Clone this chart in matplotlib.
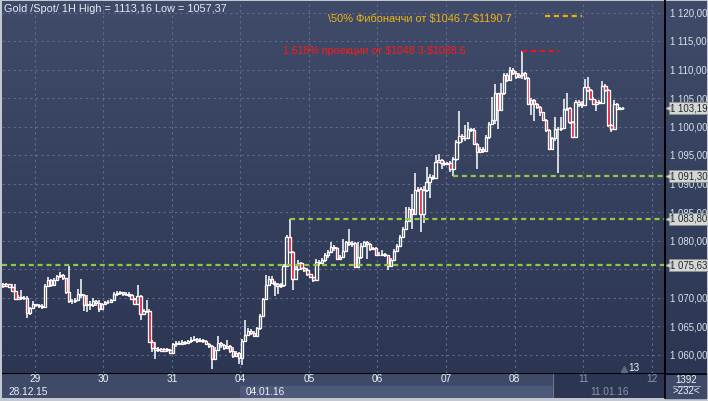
import matplotlib
matplotlib.use("Agg")
import matplotlib.pyplot as plt
import numpy as np
from matplotlib.colors import LinearSegmentedColormap
from matplotlib.patches import Rectangle

plt.rcParams['font.family'] = ['Liberation Sans', 'DejaVu Sans']

# hourly candles, Gold spot, 28.12.15 - 11.01.16
first_open = 1072.3
closes = [
    1072.1, 1072.3, 1071.9, 1071.2, 1069.8, 1070.1, 1069.9, 1070.0, 1067.3, 1068.2, 1068.8,
    1068.6, 1068.5, 1068.4, 1072.1, 1073.0, 1072.2, 1073.1, 1073.8, 1074.0, 1073.4, 1070.9,
    1069.3, 1069.3, 1069.5, 1070.6, 1070.4, 1068.6, 1068.9, 1068.7, 1069.3, 1069.0, 1068.0, 1068.8,
    1069.2, 1069.2, 1069.6, 1070.6, 1070.8, 1070.9, 1070.6, 1070.7, 1070.5, 1069.8, 1068.9,
    1070.3, 1067.1, 1067.6, 1067.7, 1062.2, 1061.2, 1060.8, 1061.0, 1060.7, 1060.9, 1060.8,
    1060.3, 1061.8, 1062.1, 1061.9, 1062.2, 1062.0, 1062.3, 1062.5, 1062.7, 1062.4, 1062.6,
    1062.3, 1061.9, 1061.5, 1059.2, 1060.8, 1062.0, 1061.6, 1061.1, 1061.5, 1060.7, 1059.8,
    1060.3, 1059.3, 1062.4, 1063.4, 1064.2, 1063.8, 1063.3, 1064.6, 1066.8, 1069.7, 1072.2,
    1073.3, 1072.6, 1072.3, 1072.0, 1072.2, 1075.5, 1080.6, 1078.0, 1073.3, 1075.0, 1076.1,
    1075.2, 1074.8, 1074.1, 1073.6, 1073.1, 1076.3, 1076.0, 1076.5, 1077.4, 1078.0, 1078.9,
    1078.6, 1076.8, 1077.1, 1078.2, 1079.7, 1079.4, 1079.5, 1075.3, 1077.1, 1079.0, 1079.7,
    1079.4, 1078.5, 1078.6, 1077.4, 1077.5, 1077.6, 1077.4, 1075.6, 1076.6, 1078.2, 1079.0,
    1080.6, 1082.1, 1083.5, 1085.6, 1084.6, 1088.8, 1089.1, 1084.7, 1088.9, 1090.3, 1091.2,
    1091.0, 1093.8, 1094.1, 1093.6, 1093.5, 1093.6, 1092.6, 1094.3, 1097.3, 1098.4, 1098.0,
    1097.9, 1099.5, 1099.3, 1097.0, 1095.5, 1096.0, 1095.7, 1098.2, 1100.5, 1101.2, 1105.8,
    1102.9, 1105.8, 1109.0, 1108.1, 1110.0, 1109.3, 1108.7, 1109.0, 1109.3, 1108.5, 1104.0,
    1104.6, 1104.0, 1103.4, 1102.6, 1101.1, 1099.3, 1096.1, 1097.9, 1099.6, 1099.5, 1099.8,
    1103.1, 1103.3, 1100.8, 1098.2, 1104.3, 1103.9, 1103.8, 1107.0, 1106.4, 1104.9, 1104.0,
    1104.3, 1104.2, 1107.1, 1106.4, 1100.2, 1099.6, 1104.0, 1103.1, 1103.3, 1103.19,
]
highs = [
    1072.5, 1072.6, 1072.4, 1072.3, 1072.4, 1070.5, 1071.3, 1070.3, 1070.2, 1068.4, 1069.3,
    1068.8, 1068.9, 1068.8, 1072.4, 1073.6, 1073.2, 1073.4, 1074.0, 1074.4, 1074.2, 1073.5,
    1075.5, 1069.8, 1069.9, 1071.5, 1073.3, 1070.6, 1070.4, 1069.3, 1069.9, 1069.6, 1069.6, 1069.1,
    1069.4, 1069.6, 1069.8, 1070.9, 1071.1, 1071.2, 1071.0, 1071.0, 1070.9, 1070.7, 1070.0,
    1072.2, 1070.5, 1067.9, 1069.6, 1067.9, 1062.5, 1062.2, 1061.3, 1061.1, 1061.2, 1061.1,
    1061.0, 1062.1, 1062.4, 1062.3, 1062.5, 1062.3, 1062.6, 1063.0, 1063.2, 1062.9, 1062.9,
    1062.7, 1062.5, 1062.0, 1061.6, 1061.3, 1063.3, 1062.2, 1061.8, 1062.5, 1061.6, 1061.3,
    1060.7, 1060.4, 1062.7, 1066.0, 1064.6, 1064.4, 1064.2, 1064.9, 1067.1, 1070.0, 1073.9,
    1073.8, 1073.7, 1072.9, 1072.6, 1072.5, 1075.8, 1080.9, 1083.8, 1078.2, 1075.6, 1076.5,
    1076.3, 1075.3, 1075.1, 1073.9, 1073.6, 1076.7, 1076.6, 1076.9, 1077.8, 1078.3, 1079.7,
    1079.2, 1078.8, 1077.4, 1080.3, 1080.0, 1082.1, 1079.9, 1079.8, 1079.7, 1079.5, 1080.0,
    1079.9, 1079.6, 1078.9, 1078.8, 1077.9, 1078.4, 1077.8, 1077.5, 1077.0, 1078.5, 1079.3,
    1080.9, 1082.4, 1085.9, 1085.9, 1088.2, 1091.8, 1089.4, 1089.3, 1089.5, 1092.9, 1091.6,
    1091.5, 1095.0, 1095.2, 1094.3, 1094.0, 1093.8, 1093.9, 1094.6, 1097.6, 1102.8, 1098.6,
    1100.2, 1100.8, 1099.8, 1099.7, 1097.1, 1096.4, 1096.4, 1098.5, 1100.8, 1105.2, 1107.5,
    1105.9, 1107.6, 1109.3, 1109.3, 1110.5, 1110.2, 1109.7, 1109.3, 1113.16, 1109.6, 1108.6,
    1105.0, 1104.8, 1104.2, 1103.6, 1102.5, 1101.3, 1099.5, 1098.2, 1101.7, 1100.0, 1101.7,
    1104.9, 1105.8, 1103.5, 1100.9, 1104.6, 1104.6, 1104.5, 1108.4, 1108.6, 1106.6, 1105.1,
    1104.6, 1104.6, 1108.0, 1107.4, 1106.6, 1100.4, 1104.7, 1104.2, 1103.5, 1103.4,
]
lows = [
    1071.7, 1071.9, 1071.6, 1071.0, 1069.6, 1069.7, 1069.6, 1069.6, 1066.4, 1067.0, 1067.9,
    1068.4, 1068.2, 1068.0, 1068.2, 1071.8, 1071.9, 1072.0, 1073.0, 1073.5, 1073.0, 1070.6,
    1069.0, 1068.9, 1069.1, 1069.3, 1069.9, 1067.6, 1067.5, 1067.8, 1068.4, 1068.5, 1067.5, 1067.9,
    1068.9, 1068.9, 1069.0, 1069.4, 1070.3, 1070.4, 1070.3, 1070.2, 1070.1, 1069.5, 1068.6,
    1068.7, 1066.0, 1066.9, 1067.2, 1062.0, 1060.5, 1059.2, 1060.5, 1060.4, 1060.5, 1060.4,
    1060.1, 1060.2, 1061.3, 1061.6, 1061.8, 1061.7, 1061.9, 1062.1, 1062.3, 1062.1, 1062.2,
    1062.0, 1061.7, 1061.2, 1057.37, 1059.0, 1060.6, 1061.2, 1060.8, 1060.9, 1060.3, 1059.4,
    1059.5, 1058.3, 1058.2, 1062.2, 1063.3, 1063.4, 1063.0, 1063.1, 1064.3, 1066.5, 1069.5,
    1072.0, 1072.3, 1070.3, 1070.6, 1071.7, 1071.9, 1075.3, 1077.8, 1071.3, 1073.1, 1074.6,
    1074.8, 1074.5, 1073.8, 1073.4, 1072.7, 1073.0, 1075.6, 1075.8, 1076.2, 1077.0, 1077.9,
    1078.1, 1076.5, 1076.6, 1076.9, 1078.0, 1079.1, 1078.8, 1075.1, 1075.1, 1076.8, 1078.8,
    1076.8, 1078.2, 1078.3, 1077.2, 1077.3, 1077.3, 1077.1, 1074.9, 1075.4, 1076.5, 1078.0,
    1078.9, 1080.5, 1082.0, 1083.4, 1082.1, 1084.4, 1088.5, 1081.5, 1083.0, 1088.5, 1087.4,
    1090.7, 1090.9, 1093.7, 1092.6, 1093.0, 1093.4, 1092.0, 1091.3, 1094.0, 1097.0, 1097.2,
    1097.5, 1097.8, 1099.0, 1096.8, 1092.6, 1095.3, 1095.4, 1095.5, 1097.8, 1100.2, 1100.5,
    1099.5, 1102.7, 1105.5, 1107.8, 1108.0, 1109.0, 1108.4, 1108.6, 1108.3, 1108.2, 1103.7,
    1102.0, 1101.0, 1103.1, 1101.9, 1100.9, 1099.0, 1095.9, 1095.8, 1097.5, 1091.8, 1099.2,
    1099.5, 1102.8, 1100.5, 1097.9, 1098.0, 1103.5, 1103.3, 1103.6, 1106.1, 1104.6, 1103.7,
    1102.8, 1103.9, 1103.9, 1106.1, 1100.0, 1099.0, 1099.5, 1102.9, 1103.0, 1102.9,
]

day_labels = ["29", "30", "31", "04", "05", "06", "07", "08", "11", "12"]
week_labels = ["28.12.15", "04.01.16", "11.01.16"]
bars_per_day = 23
first_day_bar = 10.5
levels = [1091.30, 1083.80, 1075.63]
level_from_bar = [151, 96, -0.5]
high_price = 1113.16
high_bar = 174
last_price = 1103.19
price_ticks = np.arange(1060, 1121, 5)

W, H = 708, 401
BG_TOP, BG_BOT = '#3f4b69', '#2b3551'


def box(x0, y0, x1, y1):
    # pixel box (origin top-left) -> figure fraction rect
    return [x0 / W, 1 - y1 / H, (x1 - x0) / W, (y1 - y0) / H]


def fmt(v):
    return f"{v:,.2f}".replace(",", " ").replace(".", ",")


fig = plt.figure(figsize=(W / 100, H / 100), dpi=100)
fig.patch.set_facecolor('#c2c7d0')

# gradient background
bg = fig.add_axes(box(2, 1, 706, 398))
grad = np.linspace(0, 1, 256).reshape(-1, 1)
bg.imshow(grad, aspect='auto', extent=[0, 1, 0, 1],
          cmap=LinearSegmentedColormap.from_list('bg', [BG_TOP, BG_BOT]))
bg.axis('off')

n = len(closes)
x = np.arange(n)
c = np.array(closes)
o = np.r_[first_open, c[:-1]]
hi = np.array(highs)
lo = np.array(lows)
body_lo = np.minimum(o, c)
body_hi = np.maximum(o, c)
height = np.maximum(body_hi - body_lo, 0.08)

ax = fig.add_axes(box(2, 1, 665, 373))
ax.patch.set_alpha(0)
ax.set_xlim(-0.5, 222)
ax.set_ylim(1120 - (373 - 12.5) / 5.7, 1120 - (1 - 12.5) / 5.7)

day_ticks = first_day_bar + bars_per_day * np.arange(len(day_labels))
ax.set_xticks(day_ticks)
ax.set_yticks(price_ticks)
ax.grid(True, color='#5f6c8a', ls=(0, (2, 3)), lw=0.8)
ax.set_axisbelow(True)
ax.tick_params(axis='x', length=0, labelbottom=False)
ax.yaxis.tick_right()
# the 1075 label sits fully under the 1 075,63 tag in the original
ax.set_yticklabels(['' if v == 1075 else fmt(v) for v in price_ticks])
ax.tick_params(axis='y', length=0, pad=3.5, labelsize=6.9, labelcolor='#dbe3ef')
for s in ['top', 'left', 'bottom']:
    ax.spines[s].set_visible(False)
ax.spines['right'].set_color('black')
ax.spines['right'].set_linewidth(1.2)

# candles
ax.vlines(x, body_hi, hi, color='white', lw=1.1, zorder=3)
ax.vlines(x, lo, body_lo, color='white', lw=1.1, zorder=3)
face = np.where(c < o, '#e8102e', 'none')
ax.bar(x, height, bottom=body_lo, width=0.78, color=face,
       edgecolor='white', linewidth=0.95, zorder=4)

# support levels
dash = (0, (2.3, 1.7))
ax.hlines(levels, level_from_bar, 222, colors='#8fc843', lw=1.6, linestyles=dash, zorder=5)
ax.hlines(high_price, high_bar, high_bar + 12.5, colors='#e8141e', lw=1.6, linestyles=dash, zorder=5)

# price tags on the right scale
ytr = ax.get_yaxis_transform()
for p in [last_price] + levels:
    ax.text(1.0075, p, fmt(p), transform=ytr, fontsize=6.9, color='#1c2538',
            va='center', ha='left', clip_on=False, zorder=10,
            bbox=dict(boxstyle='square,pad=0.1', fc='#d5d7d0', ec='#8c9198', lw=0.6))
    ax.plot([1.0042], [p], transform=ytr, marker='<', ms=5, color='#d5d7d0',
            mec='#8c9198', mew=0.5, clip_on=False, zorder=11)

# time axis panel
bot = fig.add_axes(box(2, 373, 665, 398))
bot.set_xlim(ax.get_xlim())
bot.set_ylim(2, 0)
bot.axis('off')
bot.add_patch(Rectangle((-0.5, 0), 223, 2, color='#3e4a68'))
bot.add_patch(Rectangle((79.5, 1), 105, 1, color='#4c5979'))
bot.add_patch(Rectangle((184.4, 0), 38, 2, color='#2c3653'))
bot.plot([184.4, 184.4], [0.1, 2], color='#6d7890', lw=0.8)
bot.plot([-0.5, 222], [0.02, 0.02], color='black', lw=1.5)
for t, lab in zip(day_ticks, day_labels):
    col = '#8894ab' if t > 184.4 else '#eef2f8'
    bot.text(t, 0.5, lab, ha='center', va='center', fontsize=7.3, color=col)
bot.text(1.5, 1.5, week_labels[0], ha='left', va='center', fontsize=7.3, color='#eef2f8')
bot.text(81.3, 1.5, week_labels[1], ha='left', va='center', fontsize=7.3, color='#eef2f8')
bot.text(197, 1.5, week_labels[2], ha='left', va='center', fontsize=7.3, color='#8894ab')

# overlay in pixel coordinates for captions
ov = fig.add_axes([0, 0, 1, 1])
ov.set_xlim(0, W)
ov.set_ylim(H, 0)
ov.axis('off')
ov.patch.set_alpha(0)
ov.add_patch(Rectangle((665, 373), 41, 25, color='#3e4a68'))
ov.plot([665, 665], [0, 398], color='black', lw=1.2)
ov.plot([665, 706], [373.5, 373.5], color='black', lw=1.2)
ov.text(686, 380, "1392", ha='center', va='center', fontsize=7, color='#eef2f8')
ov.plot([673, 700], [386, 386], color='#aab3c4', lw=0.6)
ov.text(686, 391.5, ">232<", ha='center', va='center', fontsize=7, color='#eef2f8')
ov.text(4, 9, "Gold /Spot/ 1H High = 1113,16 Low = 1057,37", fontsize=7.8,
        color='#e8ecf2', va='center', parse_math=False)
ov.text(328, 19, "\\50% Фибоначчи от $1046.7-$1190.7", fontsize=7.9,
        color='#f0b414', va='center', parse_math=False)
ov.plot([545, 582], [16, 16], color='#f0b000', lw=1.6, ls=dash)
ov.text(283, 51, "1,618% проекции от $1048.3-$1088.6", fontsize=7.7,
        color='#ff1a1a', va='center', parse_math=False)
ov.plot([624], [369], marker='^', ms=4, color='#5d6985')
ov.text(634, 368, "13", ha='center', va='center', fontsize=7.2, color='#eef2f8')

fig.savefig("out.png", dpi=100, facecolor=fig.get_facecolor())
